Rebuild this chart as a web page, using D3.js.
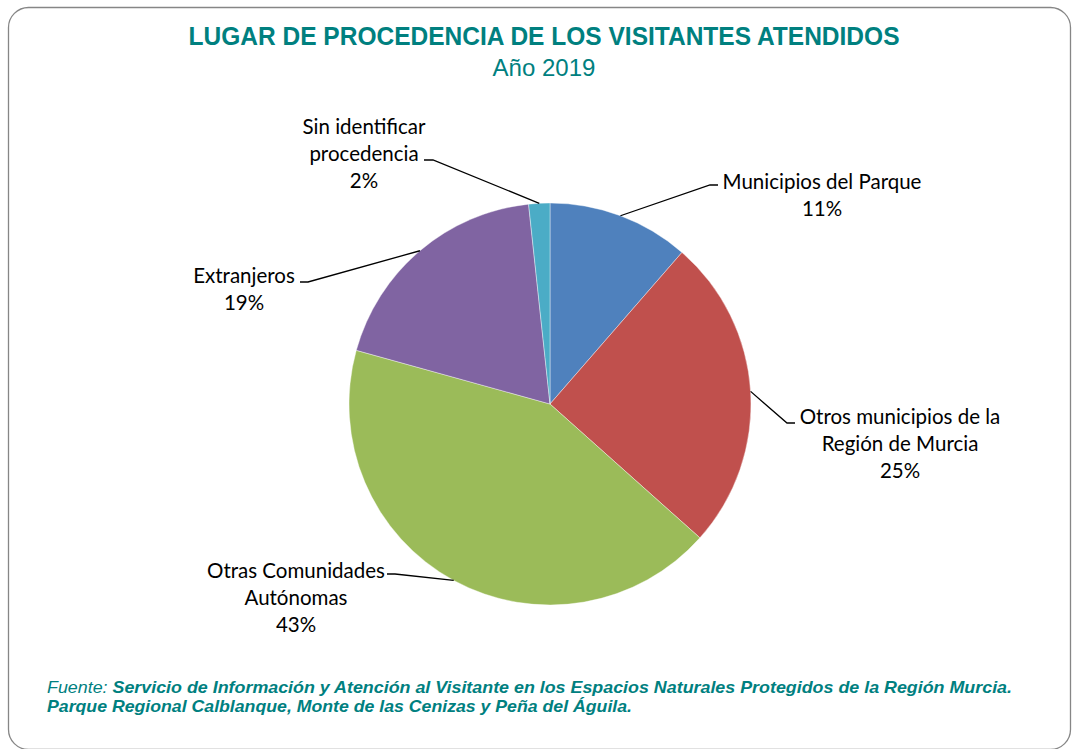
<!DOCTYPE html>
<html><head><meta charset="utf-8">
<script src="https://cdn.jsdelivr.net/npm/d3@7"></script>
<style>html,body{margin:0;padding:0;background:#fff;}svg{display:block;}</style>
</head><body>
<svg id="c" width="1076" height="749"></svg>
<script>
// ---- data ----
const categories = ["Municipios del Parque", "Otros municipios de la Región de Murcia", "Otras Comunidades Autónomas", "Extranjeros", "Sin identificar procedencia"];
const values = [11.4, 25.2, 42.7, 19.0, 1.7];
const labelLines = [["Municipios del Parque"], ["Otros municipios de la", "Región de Murcia"], ["Otras Comunidades", "Autónomas"], ["Extranjeros"], ["Sin identificar", "procedencia"]];
const colors = ["#4F81BD", "#C0504D", "#9BBB59", "#8064A2", "#4BACC6"];
const titleText = "LUGAR DE PROCEDENCIA DE LOS VISITANTES ATENDIDOS";
const subtitleText = "Año 2019";
const sourceLines = [["Fuente: ", "Servicio de Información  y Atención al Visitante en los Espacios Naturales Protegidos de la Región Murcia."], ["", "Parque Regional Calblanque, Monte de las Cenizas y Peña del Águila."]];

// ---- layout ----
const cx = 550, cy = 404, R = 201;
const teal = "#00807F";
// label layout: elbow point, line end, text center x, first baseline
const labelLayout = [
  {elbow:[710,185], end:[718,185], tx:822, ty:189},
  {elbow:[787,423], end:[795,423], tx:900, ty:424},
  {elbow:[395,574], end:[387,574], tx:296, ty:578},
  {elbow:[308,282], end:[300,282], tx:244, ty:283},
  {elbow:[433,160], end:[424,160], tx:364, ty:134}
];
const lineH = 27;

const svg = d3.select("#c");
svg.append("rect").attr("x",8.5).attr("y",7.5).attr("width",1062).attr("height",742)
  .attr("rx",20).attr("ry",20).attr("fill","#fff").attr("stroke","#868686").attr("stroke-width",1.3);

svg.append("text").attr("x",544).attr("y",45).attr("text-anchor","middle")
  .attr("font-family","Liberation Sans, Arial, sans-serif").attr("font-weight","bold")
  .attr("font-size",25).attr("fill",teal).attr("textLength",711).attr("lengthAdjust","spacingAndGlyphs")
  .text(titleText);
svg.append("text").attr("x",544).attr("y",76).attr("text-anchor","middle")
  .attr("font-family","Liberation Sans, Arial, sans-serif")
  .attr("font-size",24).attr("fill",teal).text(subtitleText);

const pie = d3.pie().sort(null).value(d=>d)(values);
const arc = d3.arc().innerRadius(0).outerRadius(R);
const g = svg.append("g").attr("transform",`translate(${cx},${cy})`);
g.selectAll("path").data(pie).join("path").attr("d",arc)
  .attr("fill",(d,i)=>colors[i]).attr("stroke","#fff").attr("stroke-width",0.4);

const total = d3.sum(values);
pie.forEach((d,i)=>{
  const a = (d.startAngle+d.endAngle)/2;
  const px = cx + R*Math.sin(a), py = cy - R*Math.cos(a);
  const L = labelLayout[i];
  svg.append("polyline").attr("points",[[px,py],L.elbow,L.end].map(p=>p.join(",")).join(" "))
    .attr("fill","none").attr("stroke","#000").attr("stroke-width",1.3);
  const t = svg.append("text").attr("text-anchor","middle")
    .attr("font-family","Lato, 'Open Sans', sans-serif").attr("font-size",20.5).attr("fill","#000");
  const lines = labelLines[i].concat([Math.round(values[i]/total*100)+"%"]);
  lines.forEach((s,k)=>t.append("tspan").attr("x",L.tx).attr("y",L.ty+k*lineH).text(s));
});

const src = svg.append("g");
sourceLines.forEach((ln,k)=>{
  const t = src.append("text").attr("x",47).attr("y",693+k*19)
    .attr("font-family","Liberation Sans, Arial, sans-serif").attr("font-style","italic")
    .attr("font-size",17).attr("fill",teal)
    .attr("textLength", k===0?965:585).attr("lengthAdjust","spacingAndGlyphs");
  if(ln[0]) t.append("tspan").text(ln[0]);
  t.append("tspan").attr("font-weight","bold").text(ln[1]);
});
</script>
</body></html>
